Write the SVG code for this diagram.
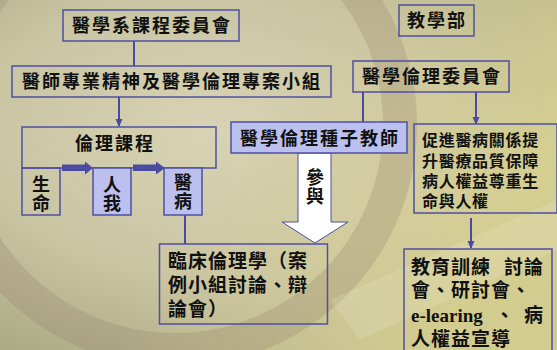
<svg xmlns="http://www.w3.org/2000/svg" width="557" height="350" viewBox="0 0 557 350">
<defs>
<radialGradient id="bg" cx="0.38" cy="0.38" r="0.75">
<stop offset="0" stop-color="#d8d3b4"/>
<stop offset="0.55" stop-color="#c9c4a2"/>
<stop offset="1" stop-color="#a9a783"/>
</radialGradient>
<linearGradient id="tr" x1="0" y1="0" x2="1" y2="0.4">
<stop offset="0.5" stop-color="#d9d39a" stop-opacity="0"/>
<stop offset="1" stop-color="#ddd592" stop-opacity="0.8"/>
</linearGradient>
<marker id="ah" markerWidth="8" markerHeight="8" refX="7" refY="4" orient="auto" markerUnits="userSpaceOnUse">
<path d="M0,0.5 L8,4 L0,7.5 Z" fill="#4a4aa0"/>
</marker>
<style>
.box{fill:none;stroke:#4f4fa3;stroke-width:1.5}
.fb{fill:#bcc0ee;stroke:#4f4fa3;stroke-width:1.5}
.ln{fill:none;stroke:#4a4aa0;stroke-width:2}
.t{font-family:"Noto Sans CJK TC","Noto Sans CJK SC",sans-serif;font-weight:700;fill:#111;font-size:18px;letter-spacing:2px}
.s{font-size:16px;letter-spacing:0.7px}
.m{font-size:19px;letter-spacing:1px}
.v{writing-mode:vertical-rl;letter-spacing:1px}
.e{font-family:"Liberation Serif",serif;font-weight:700;letter-spacing:0}
</style>
</defs>
<rect width="557" height="350" fill="url(#bg)"/>
<rect width="557" height="350" fill="url(#tr)"/>
<circle cx="175" cy="125" r="225" fill="none" stroke="#8f7d66" stroke-width="34" stroke-opacity="0.25"/>
<path d="M330,300 L557,200 L557,250 L360,340 Z" fill="#e6e4c8" opacity="0.25"/>

<g id="connectors">
<line class="ln" x1="134" y1="41" x2="134" y2="66"/>
<line class="ln" x1="119" y1="97" x2="119" y2="126" marker-end="url(#ah)"/>
<line class="ln" x1="363" y1="92" x2="363" y2="122"/>
<line class="ln" x1="476" y1="92" x2="476" y2="124" marker-end="url(#ah)"/>
<line class="ln" x1="185" y1="215" x2="185" y2="244"/>
<line class="ln" x1="471" y1="218" x2="471" y2="248" marker-end="url(#ah)"/>
<polygon points="62,164.5 85,164.5 85,161.5 93,168 85,174.5 85,171 62,171" fill="#4a4aa0"/>
<polygon points="133,164.5 156,164.5 156,161.5 165,168 156,174.5 156,171 133,171" fill="#4a4aa0"/>
<polygon points="298,153 331,153 331,222 348,222 315,243 282,222 298,222 Z" fill="#ffffff" stroke="#4f4fa3" stroke-width="1"/>
<text class="t v" x="315" y="168">參與</text>
</g>

<g id="n1"><rect class="box" x="63" y="10" width="176" height="31"/><text class="t" x="72" y="32">醫學系課程委員會</text></g>
<g id="n2"><rect class="box" x="12" y="66" width="319" height="31"/><text class="t" x="22" y="88">醫師專業精神及醫學倫理專案小組</text></g>
<g id="n3"><rect class="box" x="399" y="5" width="75" height="31"/><text class="t" x="407" y="27">教學部</text></g>
<g id="n4"><rect class="box" x="353" y="61" width="156" height="31"/><text class="t" x="362" y="83">醫學倫理委員會</text></g>
<g id="n5"><rect class="box" x="22" y="127" width="194" height="41"/><text class="t" x="75" y="150">倫理課程</text></g>
<g id="n6"><rect class="box" x="22" y="168" width="38" height="47"/><text class="t v" x="41" y="175">生命</text></g>
<g id="n7"><rect class="fb" x="93" y="168" width="38" height="47"/><text class="t v" x="112" y="175">人我</text></g>
<g id="n8"><rect class="fb" x="164" y="168" width="38" height="47"/><text class="t v" x="183" y="173">醫病</text></g>
<g id="n9"><rect class="fb" x="231" y="122" width="176" height="31"/><text class="t" x="240" y="145">醫學倫理種子教師</text></g>
<g id="n10"><rect class="box" x="414" y="124" width="143" height="89"/>
<text class="t s" x="422" y="146">促進醫病關係提<tspan x="422" dy="20.5">升醫療品質保障</tspan><tspan x="422" dy="20">病人權益尊重生</tspan><tspan x="422" dy="20">命與人權</tspan></text></g>
<g id="n11"><rect class="box" x="159.5" y="244" width="168" height="80"/>
<text class="t m" x="168" y="268">臨床倫理學（案<tspan x="168" dy="24">例小組討論、辯</tspan><tspan x="168" dy="24">論會）</tspan></text></g>
<g id="n12"><rect class="box" x="404" y="249" width="148" height="110"/>
<text class="t m" x="411" y="274">教育訓練<tspan x="504">討論</tspan><tspan x="411" dy="23">會、研討會、</tspan><tspan x="411" dy="25" class="e">e-learing</tspan><tspan x="495">、</tspan><tspan x="524">病</tspan><tspan x="411" dy="24">人權益宣導</tspan></text></g>
</svg>
